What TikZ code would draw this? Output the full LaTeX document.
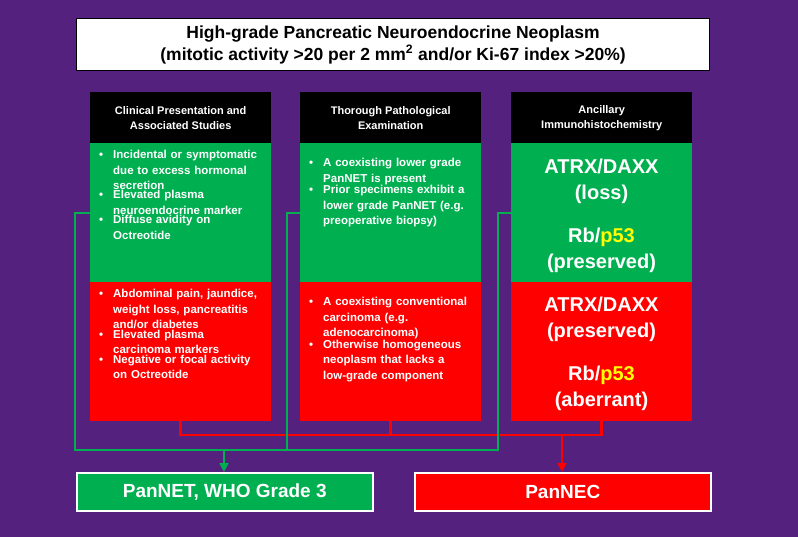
\documentclass[tikz,border=0pt]{standalone}
\usepackage{fontspec}
\setmainfont{Liberation Sans}
\usetikzlibrary{arrows.meta}
\definecolor{bg}{RGB}{84,33,126}
\definecolor{gr}{RGB}{0,176,80}
\definecolor{rd}{RGB}{255,0,0}
\definecolor{yl}{RGB}{255,255,0}
\newcommand{\bl}[1]{\noindent\makebox[14pt][l]{\textbullet}\parbox[t]{152pt}{\raggedright\hyphenpenalty=10000 #1}\par}
\begin{document}
\begin{tikzpicture}[x=1pt,y=-1pt,
  hdr/.style={fill=black,text=white,font=\bfseries\fontsize{11}{15}\selectfont,align=center,minimum width=181pt,minimum height=51pt,anchor=north west,inner sep=0pt},
  gbox/.style={fill=gr,text=white,minimum width=181pt,minimum height=139pt,anchor=north west,inner sep=0pt},
  rbox/.style={fill=rd,text=white,minimum width=181pt,minimum height=139pt,anchor=north west,inner sep=0pt},
  btxt/.style={text=white,font=\bfseries\fontsize{11.5}{15.5}\selectfont,text width=170pt,align=left,anchor=north west,inner sep=0pt},
  big/.style={text=white,font=\bfseries\fontsize{20}{26}\selectfont,align=center},
  gl/.style={draw=gr,line width=2.5pt},
  rl/.style={draw=rd,line width=2.5pt},
  tip/.style={-{Triangle[length=9pt,width=9pt]}}]
\fill[bg] (0,0) rectangle (798,537);
\node[draw=black,line width=1.2pt,fill=white,minimum width=633pt,minimum height=52pt,anchor=north west,inner sep=0pt,align=center,font=\bfseries\fontsize{17.5}{22}\selectfont] (top) at (76,18) {High-grade Pancreatic Neuroendocrine Neoplasm\\(mitotic activity >20 per 2 mm\textsuperscript{2} and/or Ki-67 index >20\%)};
\node[hdr] (h1) at (90,92) {Clinical Presentation and\\Associated Studies};
\node[hdr] (h2) at (300,92) {Thorough Pathological\\Examination};
\node[hdr] (h3) at (511,92) {Ancillary\\Immunohistochemistry};
\node[gbox] (g1) at (90,143) {};
\node[gbox] (g2) at (300,143) {};
\node[gbox] (g3) at (511,143) {};
\node[rbox] (r1) at (90,282) {};
\node[rbox] (r2) at (300,282) {};
\node[rbox] (r3) at (511,282) {};
\coordinate (gj) at (224,450);
\coordinate (rj) at (562,435);
\node[draw=white,line width=1.5pt,fill=gr,minimum width=296pt,minimum height=38pt,anchor=north west,inner sep=0pt,text=white,font=\bfseries\fontsize{19}{22}\selectfont] (net) at (76,472) {PanNET, WHO Grade 3};
\node[draw=white,line width=1.5pt,fill=rd,minimum width=296pt,minimum height=38pt,anchor=north west,inner sep=0pt,text=white,font=\bfseries\fontsize{19}{22}\selectfont] (nec) at (414,472) {PanNEC};
\draw[rl] (r1.south) |- (rj);
\draw[rl] (r2.south) |- (rj);
\draw[rl] (r3.south) |- (rj);
\draw[rl,tip] (rj) -- (rj |- nec.north);
\draw[gl] (g1.west |- 0,213) -| (75,450) -- (gj);
\draw[gl] (g2.west |- 0,213) -| (287,450) -- (gj);
\draw[gl] (g3.west |- 0,213) -| (498,450) -- (gj);
\draw[gl,tip] (gj) -- (gj |- net.north);
\node[btxt] (t1) at (99,150) {\bl{Incidental or symptomatic due to excess hormonal secretion}\bl{Elevated plasma neuroendocrine marker}\bl{Diffuse avidity on Octreotide}};
\node[btxt] (t2) at (99,289) {\bl{Abdominal pain, jaundice, weight loss, pancreatitis and/or diabetes}\bl{Elevated plasma carcinoma markers}\bl{Negative or focal activity on Octreotide}};
\node[btxt] (t3) at (309,158) {\bl{A coexisting lower grade PanNET is present}\bl{Prior specimens exhibit a lower grade PanNET (e.g. preoperative biopsy)}};
\node[btxt] (t4) at (309,297) {\bl{A coexisting conventional carcinoma (e.g. adenocarcinoma)}\bl{Otherwise homogeneous neoplasm that lacks a low-grade component}};
\node[big] (a1) at (601.5,181) {ATRX/DAXX\\(loss)};
\node[big] (a2) at (601.5,250) {Rb/\textcolor{yl}{p53}\\(preserved)};
\node[big] (a3) at (601.5,319) {ATRX/DAXX\\(preserved)};
\node[big] (a4) at (601.5,388) {Rb/\textcolor{yl}{p53}\\(aberrant)};
\end{tikzpicture}
\end{document}
